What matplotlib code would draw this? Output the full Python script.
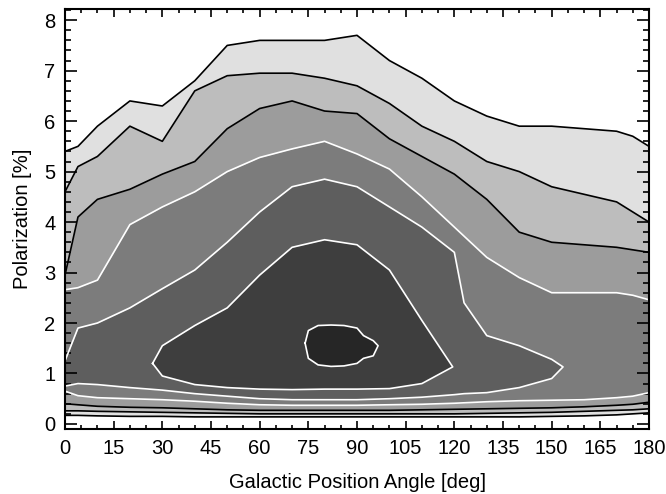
#!/usr/bin/env python3
import numpy as np
import matplotlib
matplotlib.use('Agg')
from matplotlib import pyplot as plt
from matplotlib.ticker import MultipleLocator

# galactic position angle (deg) where the contour crossings were read
angle = [0, 4, 10, 20, 30, 40, 50, 60, 70, 80, 90, 100, 110, 120, 130, 140, 150, 160, 170, 175, 180]

# contour levels 1-4 span the whole angle range: upper / lower crossing (polarization %)
hi1 = [5.4, 5.5, 5.9, 6.4, 6.3, 6.8, 7.5, 7.6, 7.6, 7.6, 7.7, 7.2, 6.85, 6.4, 6.1, 5.9, 5.9, 5.85, 5.8, 5.7, 5.5]
hi2 = [4.6, 5.1, 5.3, 5.9, 5.6, 6.6, 6.9, 6.95, 6.95, 6.85, 6.7, 6.35, 5.9, 5.6, 5.2, 5.0, 4.7, 4.55, 4.4, 4.2, 4.0]
hi3 = [2.95, 4.1, 4.45, 4.65, 4.95, 5.2, 5.85, 6.25, 6.4, 6.2, 6.15, 5.65, 5.3, 4.95, 4.45, 3.8, 3.6, 3.55, 3.5, 3.45, 3.4]
hi4 = [2.66, 2.7, 2.85, 3.95, 4.3, 4.6, 5.0, 5.28, 5.45, 5.6, 5.35, 5.05, 4.5, 3.9, 3.3, 2.9, 2.6, 2.6, 2.6, 2.55, 2.46]
lo1 = [0.17, 0.17, 0.16, 0.15, 0.15, 0.14, 0.14, 0.14, 0.14, 0.14, 0.14, 0.14, 0.14, 0.14, 0.14, 0.14, 0.15, 0.16, 0.18, 0.2, 0.22]
lo2 = [0.26, 0.26, 0.25, 0.24, 0.23, 0.22, 0.21, 0.2, 0.2, 0.2, 0.2, 0.2, 0.2, 0.2, 0.21, 0.22, 0.23, 0.25, 0.27, 0.28, 0.3]
lo3 = [0.4, 0.38, 0.35, 0.33, 0.32, 0.3, 0.28, 0.27, 0.27, 0.27, 0.27, 0.27, 0.28, 0.29, 0.3, 0.31, 0.32, 0.34, 0.37, 0.39, 0.43]
lo4 = [0.65, 0.56, 0.52, 0.5, 0.48, 0.45, 0.41, 0.38, 0.37, 0.37, 0.37, 0.38, 0.39, 0.41, 0.44, 0.46, 0.47, 0.48, 0.52, 0.55, 0.62]

# level 5 closes in a tip at ~154 deg
angle5 = [0, 4, 10, 20, 30, 40, 50, 60, 70, 80, 90, 100, 110, 120, 123, 130, 140, 150, 153.5]
hi5 = [1.25, 1.9, 2.0, 2.3, 2.68, 3.05, 3.6, 4.2, 4.7, 4.85, 4.7, 4.3, 3.9, 3.4, 2.4, 1.75, 1.55, 1.28, 1.13]
lo5 = [0.75, 0.8, 0.78, 0.72, 0.67, 0.6, 0.55, 0.5, 0.48, 0.48, 0.48, 0.5, 0.53, 0.58, 0.6, 0.62, 0.72, 0.9, 1.13]

# level 6 has tips at ~27 and ~120 deg
angle6 = [27, 30, 40, 50, 60, 70, 80, 90, 100, 110, 119.5]
hi6 = [1.2, 1.55, 1.95, 2.3, 2.95, 3.5, 3.65, 3.55, 3.05, 2.05, 1.13]
lo6 = [1.2, 0.95, 0.78, 0.72, 0.69, 0.68, 0.69, 0.69, 0.7, 0.8, 1.13]

# level 7: the dense core
angle7 = [74, 75, 78, 82, 86, 90, 92, 95, 96.5]
hi7 = [1.6, 1.85, 1.95, 1.96, 1.95, 1.9, 1.75, 1.65, 1.55]
lo7 = [1.6, 1.3, 1.17, 1.14, 1.15, 1.2, 1.3, 1.35, 1.55]

fill_colors = ['#e0e0e0', '#bdbdbd', '#9c9c9c', '#7c7c7c', '#5e5e5e', '#3e3e3e', '#262626']
line_colors = ['black', 'black', 'black', 'white', 'white', 'white', 'white']

plt.rcParams['font.family'] = ['Liberation Sans', 'DejaVu Sans']

fig = plt.figure(figsize=(6.66, 4.94), dpi=100)
ax = fig.add_axes([0.0976, 0.1316, 0.8769, 0.850])

bands = [(angle, lo1, hi1), (angle, lo2, hi2), (angle, lo3, hi3), (angle, lo4, hi4),
         (angle5, lo5, hi5), (angle6, lo6, hi6), (angle7, lo7, hi7)]

# filled levels, lightest first
for (xs, lo, hi), c in zip(bands, fill_colors):
    ax.fill_between(xs, lo, hi, color=c, lw=0)

# contour lines on top
for k, (xs, lo, hi) in enumerate(bands):
    if k < 4:
        ax.plot(xs, hi, color=line_colors[k], lw=1.2)
        ax.plot(xs, lo, color=line_colors[k], lw=1.2)
    else:
        ax.plot(list(xs) + list(xs[::-1]), list(lo) + list(hi[::-1]), color=line_colors[k], lw=1.2)

ax.set_xlim(0, 180)
ax.set_ylim(-0.1, 8.22)
ax.xaxis.set_major_locator(MultipleLocator(15))
ax.xaxis.set_minor_locator(MultipleLocator(5))
ax.yaxis.set_major_locator(MultipleLocator(1))
ax.yaxis.set_minor_locator(MultipleLocator(0.2))
ax.tick_params(which='both', direction='in', top=True, right=True, width=1.2, labelsize=14.5)
ax.tick_params(axis='x', which='major', length=6, pad=7)
ax.tick_params(axis='x', which='minor', length=3)
ax.tick_params(axis='y', which='major', length=8.5, pad=7)
ax.tick_params(axis='y', which='minor', length=4.5)
for s in ax.spines.values():
    s.set_linewidth(1.5)
    s.set_zorder(5)

ax.set_xlabel('Galactic Position Angle [deg]', fontsize=14.5, labelpad=11)
ax.set_ylabel('Polarization [%]', fontsize=14.5, labelpad=9)

fig.savefig('out.png', dpi=100)
